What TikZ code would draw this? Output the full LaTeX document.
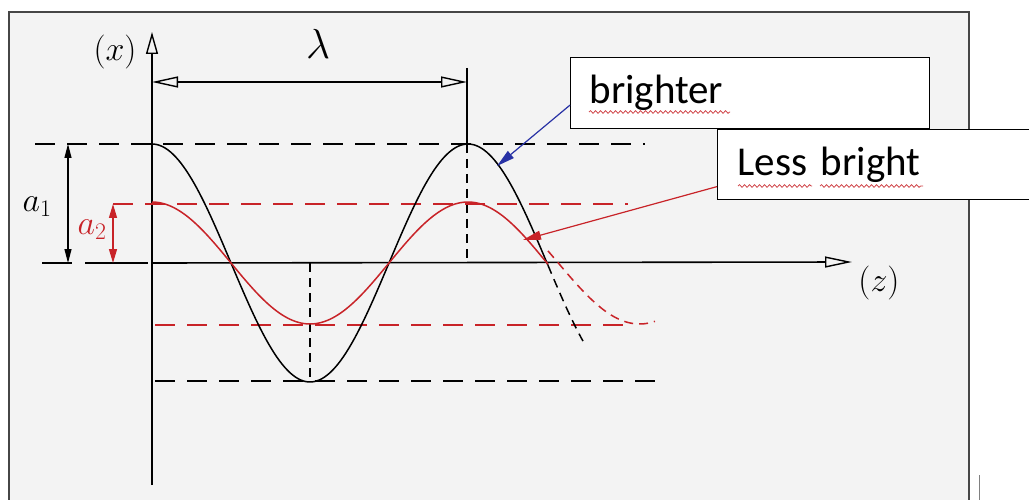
\RequirePackage{fix-cm}
\documentclass[tikz,border=0pt]{standalone}
\usepackage{fontspec}
\newfontfamily\calibri{Carlito}
\usetikzlibrary{arrows.meta,decorations.pathmorphing}
\definecolor{scan}{RGB}{243,243,243}
\definecolor{inkred}{RGB}{200,35,40}
\definecolor{inkblue}{RGB}{40,50,165}
\definecolor{framegray}{RGB}{70,70,70}
\tikzset{
  openhead/.tip={Triangle[open,length=26pt,width=11pt,line width=1.4pt]},
  smallhead/.tip={Triangle[length=14pt,width=7pt]},
  redhead/.tip={Triangle[length=14pt,width=8pt]},
  pointhead/.tip={Triangle[length=18pt,width=9pt]}
}
\begin{document}
\begin{tikzpicture}[x=1pt,y=-1pt,
  axisline/.style={line width=1.6pt, black},
  thinink/.style={line width=1.2pt, black},
  blackcurve/.style={line width=1.5pt, black},
  redcurve/.style={line width=1.5pt, inkred},
  guideblack/.style={line width=1.5pt, black, dash pattern=on 20pt off 12pt},
  guidered/.style={line width=1.5pt, inkred, dash pattern=on 20pt off 12pt},
  shortdash/.style={dash pattern=on 9pt off 6pt},
  textbox/.style={draw=black, line width=1.2pt, fill=white, font=\calibri\fontsize{41}{48}\selectfont, align=left, inner ysep=0pt},
  handlabel/.style={font=\fontsize{34}{40}\selectfont, inner sep=0pt},
  wavy/.style={inkred!85, line width=0.8pt, decorate, decoration={snake, segment length=5pt, amplitude=1.3pt}}
]
\clip (0,0) rectangle (1029,500);
% scanned page
\fill[scan] (9,12) rectangle (969,510);
\draw[framegray, line width=1.3pt] (9,510) -- (9,12) -- (969,12) -- (969,510);
\draw[gray, line width=0.8pt] (979,475) -- (979,505);

% coordinates
\coordinate (O) at (152,263);
\coordinate (ytop) at (152,32);
\coordinate (ybot) at (152,485);
\coordinate (ztip) at (852,262);
\coordinate (lamL) at (152,82);
\coordinate (lamR) at (467,82);
\coordinate (tickT) at (467,68);
\coordinate (peakB) at (467,144);
\coordinate (peakO) at (467,263);
\coordinate (minO) at (310,263);
\coordinate (minB) at (310,381);
\coordinate (a1T) at (68,144);
\coordinate (a1B) at (68,263);
\coordinate (a2T) at (113,204);
\coordinate (a2B) at (113,263);
\coordinate (bpt) at (497,166);
\coordinate (rpt) at (523,240);

% axes
\draw[axisline, -{Triangle[open,length=22pt,width=12pt,line width=1.4pt]}] (ybot) -- (ytop);
\draw[axisline, -{Triangle[open,length=27pt,width=11pt,line width=1.4pt]}] (O) -- (ztip);

% wavelength dimension
\draw[thinink, openhead-openhead] (lamL) -- (lamR);
\draw[thinink] (tickT) -- (peakB);
\draw[thinink, shortdash] (peakB) -- (peakO);
\draw[thinink, shortdash] (minO) -- (minB);

% guide lines
\draw[guideblack] (35,144) -- (645,144);
\draw[guideblack] (155,381) -- (655,381);
\draw[guidered] (113,204) -- (628,204);
\draw[guidered] (155,325) -- (630,325);

% amplitude dimensions
\draw[thinink] (42,263) -- (72,263);
\draw[thinink] (85,263) -- (148,263);
\draw[thinink, smallhead-smallhead] (a1T) -- (a1B);
\draw[inkred, line width=1.3pt, redhead-redhead] (a2T) -- (a2B);

% waves
\draw[blackcurve] plot[domain=152:548, samples=150] (\x,{263-119*cos((\x-152)/316*360)});
\draw[blackcurve, shortdash] plot[domain=548:583, samples=20] (\x,{263-119*cos((\x-152)/316*360)});
\draw[redcurve] plot[domain=152:548, samples=150] (\x,{263-61*cos((\x-152)/316*360)});
\draw[redcurve, shortdash] plot[domain=548:655, samples=60] (\x,{263-61*cos((\x-152)/316*350)});

% labels
\node[handlabel] (xlab) at (115,52) {$(x)$};
\node[handlabel, font=\fontsize{42}{48}\selectfont] (lam) at (318,44) {$\lambda$};
\node[handlabel] (zlab) at (879,283) {$(z)$};
\node[handlabel] (a1lab) at (37,207) {$a_1$};
\node[handlabel, text=inkred] (a2lab) at (92,230) {$a_2$};

% text boxes
\node[textbox, anchor=north west, minimum height=71pt, text width=321pt, inner xsep=19pt] (bright) at (570,57) {brighter};
\node[textbox, anchor=north west, minimum height=70pt, text width=330pt, inner xsep=20pt] (less) at (717,129) {Less bright};

% spell-check underlines
\draw[wavy] (589,112) -- (730,112);
\draw[wavy] (738,186) -- (812,186);
\draw[wavy] (820,186) -- (923,186);

% pointers
\draw[inkblue, line width=1.2pt, -pointhead] ([yshift=-12pt]bright.west) -- (bpt);
\draw[inkred, line width=1.2pt, -pointhead] ([yshift=-22pt]less.west) -- (rpt);
\end{tikzpicture}
\end{document}
